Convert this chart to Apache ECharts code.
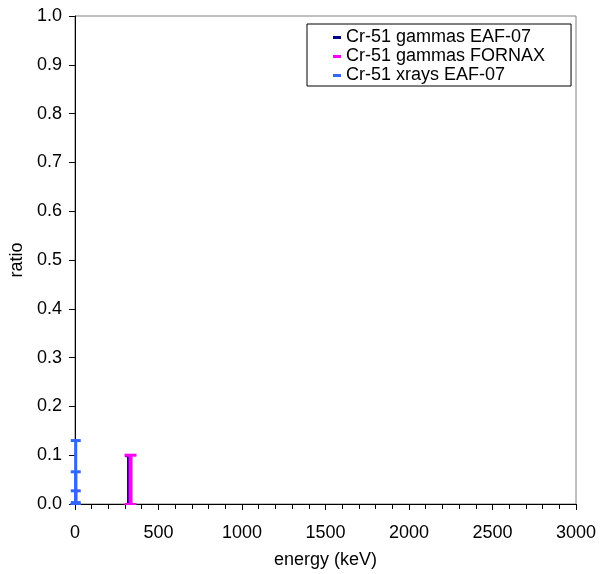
<!DOCTYPE html>
<html><head><meta charset="utf-8">
<script src="https://cdn.jsdelivr.net/npm/echarts@6/dist/echarts.min.js"></script>
<style>html,body{margin:0;padding:0;background:#fff}#c{width:609px;height:574px}</style>
</head><body><div id="c"></div>
<script>
const seriesNames = ['Cr-51 gammas EAF-07', 'Cr-51 gammas FORNAX', 'Cr-51 xrays EAF-07'];
const gammaEafEnergy = [318];
const gammaEafRatio = [0.099];
const gammaFornaxEnergy = [333];
const gammaFornaxRatio = [0.100];
const xrayEafEnergy = [5, 5, 5, 5];
const xrayEafRatio = [0.130, 0.066, 0.027, 0.003];
const xTicks = [0, 500, 1000, 1500, 2000, 2500, 3000];
const yTicks = [0, 0.1, 0.2, 0.3, 0.4, 0.5, 0.6, 0.7, 0.8, 0.9, 1.0];

function pairs(xs, ys){ return xs.map((x,i)=>[x, ys[i]]); }

function stick(color, lw, capW){
  return function(params, api){
    const top = api.coord([api.value(0), api.value(1)]);
    const bot = api.coord([api.value(0), 0]);
    return {type:'group', children:[
      {type:'line', shape:{x1:top[0],y1:top[1],x2:bot[0],y2:bot[1]}, style:{stroke:color, lineWidth:lw}},
      {type:'line', shape:{x1:top[0]-capW/2,y1:top[1],x2:top[0]+capW/2,y2:top[1]}, style:{stroke:color, lineWidth:3}},
      {type:'line', shape:{x1:bot[0]-capW/2,y1:bot[1],x2:bot[0]+capW/2,y2:bot[1]}, style:{stroke:color, lineWidth:2}}
    ]};
  };
}

const colors = ['#000080', '#FF00FF', '#3366FF'];
const chart = echarts.init(document.getElementById('c'), null, {renderer:'canvas'});
const font = 'Liberation Sans, Arial, sans-serif';
chart.setOption({
  animation:false,
  color: colors,
  grid:{left:74, right:33, top:16, bottom:69, show:true, borderColor:'#808080', borderWidth:1, backgroundColor:'#fff'},
  legend:{
    orient:'vertical', left:307, top:24,
    data: seriesNames.map((n,i)=>({name:n, icon:'rect', itemStyle:{color:colors[i]}})),
    itemWidth:8, itemHeight:3, itemGap:0,
    padding:[4, 26, 1, 26],
    borderColor:'#000', borderWidth:1, backgroundColor:'#fff',
    textStyle:{fontFamily:font, fontSize:18, lineHeight:19, color:'#000'}
  },
  xAxis:{
    type:'value', min:0, max:3000, interval:500,
    name:'energy (keV)', nameLocation:'middle', nameGap:47,
    nameTextStyle:{fontFamily:font, fontSize:18, color:'#000'},
    axisLine:{show:true, onZero:false, lineStyle:{color:'#000', width:1}},
    axisTick:{show:true, length:6, lineStyle:{color:'#000'}},
    minorTick:{show:true, splitNumber:5, length:5, lineStyle:{color:'#000'}},
    axisLabel:{fontFamily:font, fontSize:18, color:'#000', margin:20,
      formatter:v=>xTicks.includes(v)?String(v):''},
    splitLine:{show:false}
  },
  yAxis:{
    type:'value', min:0, max:1, interval:0.1,
    name:'ratio', nameLocation:'middle', nameGap:45, nameRotate:90,
    nameTextStyle:{fontFamily:font, fontSize:18, color:'#000'},
    axisLine:{show:true, lineStyle:{color:'#000', width:1}},
    axisTick:{show:true, length:6, lineStyle:{color:'#000'}},
    axisLabel:{fontFamily:font, fontSize:18, color:'#000', margin:13,
      formatter:v=>{const t=yTicks.find(q=>Math.abs(q-v)<1e-6);return t===undefined?'':t.toFixed(1);}},
    splitLine:{show:false}
  },
  series:[
    {name:seriesNames[2], type:'custom', renderItem:stick(colors[2],3,10), data:pairs(xrayEafEnergy, xrayEafRatio), z:3},
    {name:seriesNames[0], type:'custom', renderItem:stick(colors[0],2,6), data:pairs(gammaEafEnergy, gammaEafRatio), z:4},
    {name:seriesNames[1], type:'custom', renderItem:stick(colors[1],4,12), data:pairs(gammaFornaxEnergy, gammaFornaxRatio), z:5}
  ]
});
</script></body></html>
